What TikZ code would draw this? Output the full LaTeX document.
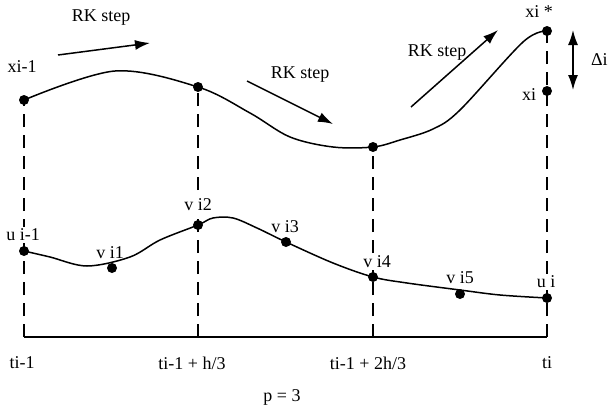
\documentclass[tikz,border=0pt]{standalone}
\usepackage{fontspec}
\setmainfont{Liberation Serif}
\usetikzlibrary{arrows.meta}
\begin{document}
\begin{tikzpicture}[x=0.5pt,y=-0.5pt,
  dot/.style={circle,fill=black,inner sep=0pt,minimum size=5pt},
  lbl/.style={font=\fontsize{9}{11}\selectfont,inner sep=1pt,fill=white},
  curve/.style={line width=0.75pt},
  guide/.style={line width=0.7pt,dash pattern=on 6.5pt off 4pt},
  rk/.style={line width=0.75pt,-{Latex[length=7.5pt,width=5pt]}},
  delta/.style={line width=0.75pt,{Latex[length=7.5pt,width=5pt]}-{Latex[length=7.5pt,width=5pt]}}]
\useasboundingbox (0,0) rectangle (610,407);
% axis points
\coordinate (A0) at (24,337);
\coordinate (A1) at (198,337);
\coordinate (A2) at (373,337);
\coordinate (A3) at (547,337);
% upper curve points
\coordinate (X0) at (24,100);
\coordinate (X1) at (198,87);
\coordinate (X2) at (373,147);
\coordinate (XS) at (547,31);
\coordinate (XI) at (547,91);
% lower curve points
\coordinate (U0) at (24,251);
\coordinate (V1) at (112,268);
\coordinate (V2) at (198,225);
\coordinate (V3) at (286,242);
\coordinate (V4) at (373,277);
\coordinate (V5) at (460,294);
\coordinate (U1) at (547,298);
% guides
\draw[guide] (A0) -- (X0);
\draw[guide] (A1) -- (X1);
\draw[guide] (A2) -- (X2);
\draw[guide] (A3) -- (XS);
% labels
\node[lbl] (t1) at (101,18) {RK step};
\node[lbl] (t2) at (300,75) {RK step};
\node[lbl] (t3) at (437,53) {RK step};
\node[lbl] (lx0) at (22,67) {xi-1};
\node[lbl] (lxs) at (539,12) {xi *};
\node[lbl] (lxi) at (529,95) {xi};
\node[lbl,anchor=east] (ld) at (610,60) {Δi};
\node[lbl] (lu0) at (23,235) {u i-1};
\node[lbl] (lv1) at (110,253) {v i1};
\node[lbl] (lv2) at (198,205) {v i2};
\node[lbl] (lv3) at (285,227) {v i3};
\node[lbl] (lv4) at (377,262) {v i4};
\node[lbl] (lv5) at (460,278) {v i5};
\node[lbl] (lu1) at (546,282) {u i};
\node[lbl] (a0) at (22,363) {ti-1};
\node[lbl] (a1) at (192,363) {ti-1 + h/3};
\node[lbl] (a2) at (368,363) {ti-1 + 2h/3};
\node[lbl] (a3) at (547,363) {ti};
\node[lbl] (p) at (282,397) {p = 3};
% axis
\draw[line width=0.75pt] (A0) -- (A3);
% curves
\draw[curve] plot[smooth,tension=0.55] coordinates {(X0) (115,71) (X1) (250,113) (290,137) (333,147) (X2) (400,140) (433,129) (460,110) (523,42) (XS)};
\draw[curve] plot[smooth,tension=0.55] coordinates {(U0) (50,257) (87,266) (130,257) (160,240) (V2) (213,218) (233,218) (257,228) (V3) (333,263) (V4) (407,283) (460,290) (500,295) (U1)};
% dots
\foreach \p in {X0,X1,X2,XS,XI,U0,V1,V2,V3,V4,V5,U1}
  \node[dot] (d\p) at (\p) {};
% RK step arrows
\coordinate (R1a) at (58,55);  \coordinate (R1b) at (150,43);
\coordinate (R2a) at (247,81); \coordinate (R2b) at (333,124);
\coordinate (R3a) at (411,107);\coordinate (R3b) at (498,30);
\draw[rk] (R1a) -- (R1b);
\draw[rk] (R2a) -- (R2b);
\draw[rk] (R3a) -- (R3b);
\coordinate (D1) at (573,30); \coordinate (D2) at (573,90);
\draw[delta] (D1) -- (D2);
\end{tikzpicture}
\end{document}
